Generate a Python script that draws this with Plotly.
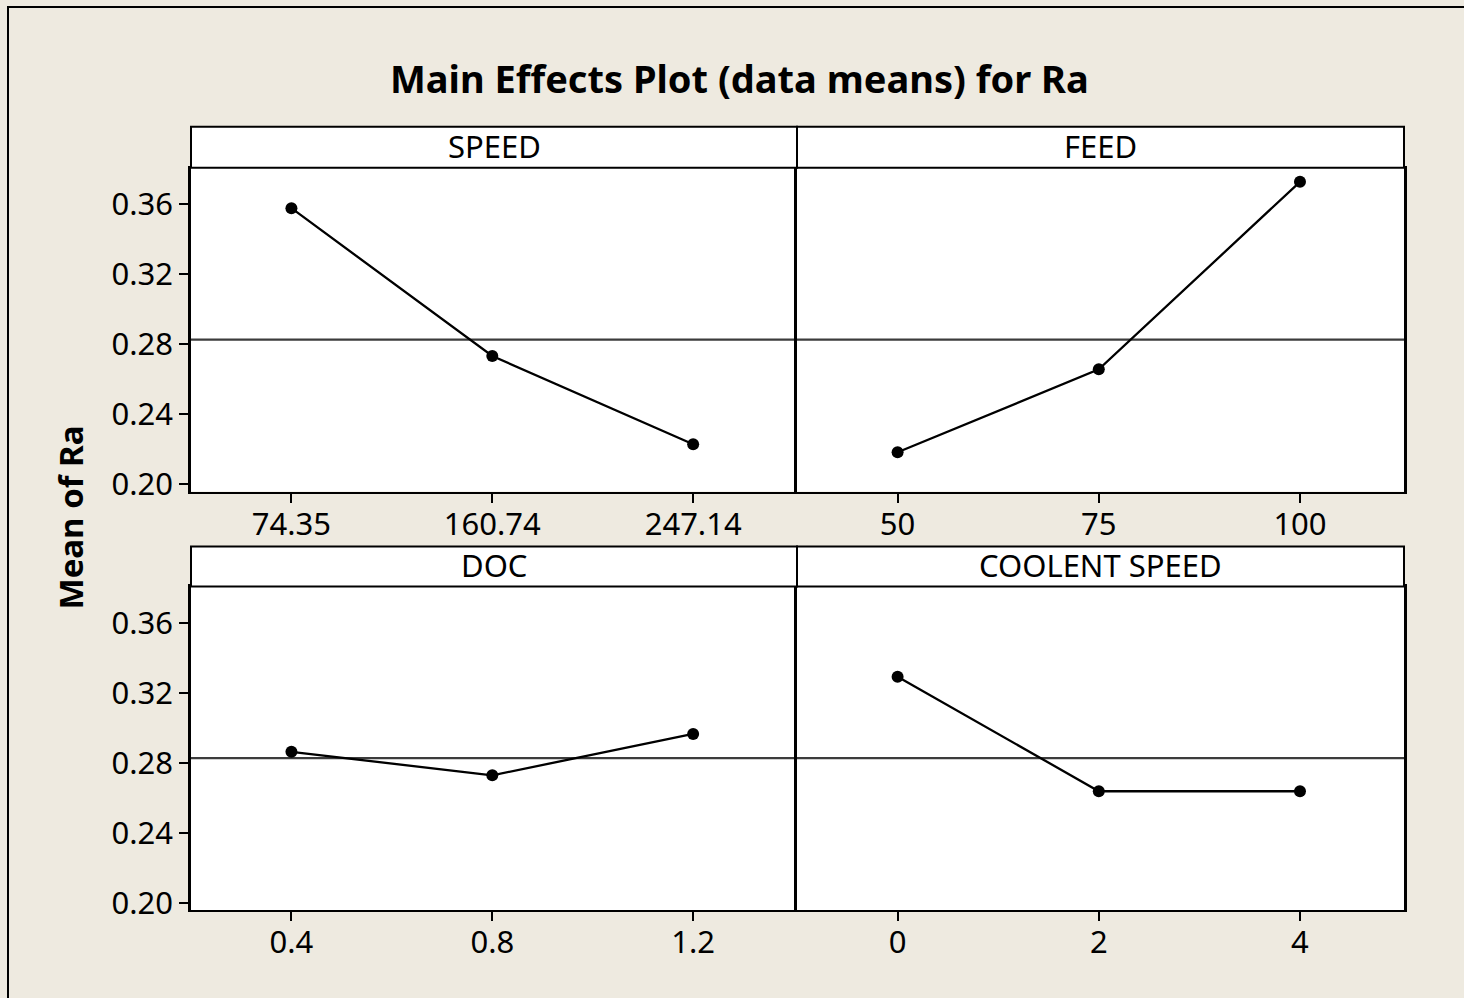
import plotly.graph_objects as go

# ---- data ----
factors = ["SPEED", "FEED", "DOC", "COOLENT SPEED"]
speed_levels = ["74.35", "160.74", "247.14"]
feed_levels = ["50", "75", "100"]
doc_levels = ["0.4", "0.8", "1.2"]
coolent_levels = ["0", "2", "4"]
speed_means = [0.3577, 0.2733, 0.2230]
feed_means = [0.2184, 0.2657, 0.3727]
doc_means = [0.2863, 0.2729, 0.2965]
coolent_means = [0.3292, 0.2638, 0.2638]
grand_mean = 0.2827
y_ticks = [0.20, 0.24, 0.28, 0.32, 0.36]
y_tick_text = ["0.20", "0.24", "0.28", "0.32", "0.36"]

levels = [speed_levels, feed_levels, doc_levels, coolent_levels]
means = [speed_means, feed_means, doc_means, coolent_means]

W, H = 1464, 998
H_EFF = 986.0   # observed vertical scale of the rendered page
BG = "#EEEAE0"
FONT = "Noto Sans"


def px(x):
    return x / W


def py(y):
    return 1 - y / H_EFF


# panel geometry (pixels)
cols = [(191, 797), (797, 1404)]
rows = [(168, 492, 127), (587, 911, 547)]

fig = go.Figure()
shapes = []
annotations = []

idx = 0
for r, (top, bot, htop) in enumerate(rows):
    for c, (left, right) in enumerate(cols):
        n = idx + 1
        sfx = "" if n == 1 else str(n)
        xa, ya = "x" + sfx, "y" + sfx
        lv = levels[idx]
        pos = list(range(1, len(lv) + 1))
        fig.add_trace(go.Scatter(
            x=pos, y=means[idx], xaxis=xa, yaxis=ya,
            mode="lines+markers",
            line=dict(color="black", width=2.3),
            marker=dict(color="black", size=12),
            showlegend=False, hoverinfo="skip", cliponaxis=False))
        fig.update_layout(**{
            "xaxis" + sfx: dict(
                domain=[px(left), px(right)], anchor=ya,
                range=[0.5, 3.517], tickmode="array", tickvals=pos, ticktext=lv,
                showline=True, mirror=True, linecolor="black", linewidth=2,
                ticks="outside", ticklen=9, tickwidth=2, tickcolor="black",
                ticklabelstandoff=-5,
                showgrid=False, zeroline=False,
                tickfont=dict(family=FONT, size=31, color="black"),
                fixedrange=True),
            "yaxis" + sfx: dict(
                domain=[py(bot), py(top)], anchor=xa,
                range=[0.196, 0.3807], tickmode="array",
                tickvals=y_ticks, ticktext=y_tick_text,
                showticklabels=(c == 0),
                ticks="outside" if c == 0 else "",
                ticklen=9, tickwidth=2, tickcolor="black",
                showline=True, mirror=(c == 1), linecolor="black", linewidth=2.5,
                showgrid=False, zeroline=False,
                tickfont=dict(family=FONT, size=31, color="black"),
                fixedrange=True),
        })
        # grand mean reference line
        shapes.append(dict(type="line", xref=xa + " domain", yref=ya,
                           x0=0, x1=1, y0=grand_mean, y1=grand_mean,
                           line=dict(color="#3c3c3c", width=2.3), layer="below"))
        # header strip
        shapes.append(dict(type="rect", xref="paper", yref="paper",
                           x0=px(left), x1=px(right), y0=py(top), y1=py(htop),
                           fillcolor="white", line=dict(color="black", width=2)))
        annotations.append(dict(text=factors[idx], xref="paper", yref="paper",
                                x=px((left + right) / 2), y=py((top + htop) / 2 - 1),
                                xanchor="center", yanchor="middle", showarrow=False,
                                font=dict(family=FONT, size=31, color="black")))
        idx += 1

# outer frame
shapes.append(dict(type="rect", xref="paper", yref="paper",
                   x0=px(8), x1=px(1480), y0=py(1030), y1=py(7),
                   line=dict(color="black", width=2), fillcolor="rgba(0,0,0,0)",
                   layer="below"))

annotations.append(dict(text="<b>Main Effects Plot (data means) for Ra</b>",
                        xref="paper", yref="paper", x=px(739), y=py(78),
                        xanchor="center", yanchor="middle", showarrow=False,
                        font=dict(family=FONT, size=38, color="black")))
annotations.append(dict(text="<b>Mean of Ra</b>", xref="paper", yref="paper",
                        x=px(70), y=py(518), textangle=-90,
                        xanchor="center", yanchor="middle", showarrow=False,
                        font=dict(family=FONT, size=33, color="black")))

fig.update_layout(
    width=W, height=H,
    margin=dict(l=0, r=0, t=0, b=0),
    paper_bgcolor=BG, plot_bgcolor="white",
    shapes=shapes, annotations=annotations,
    showlegend=False,
)

fig.write_html("out.html", config={"displayModeBar": False})
